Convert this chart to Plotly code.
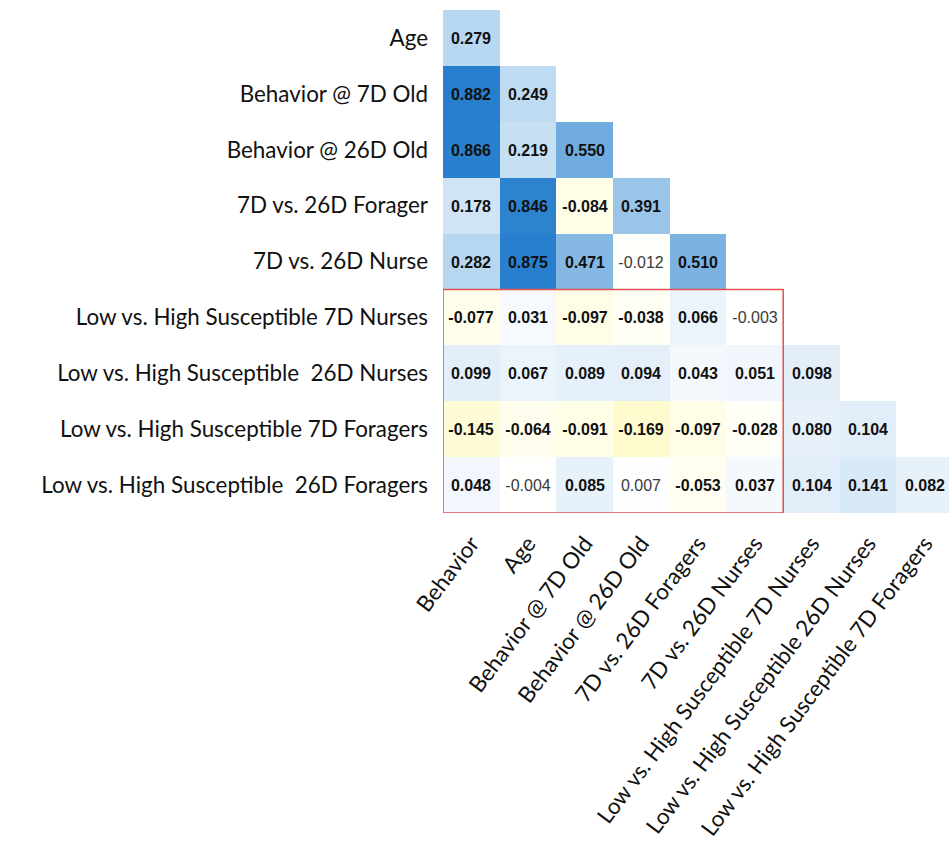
import plotly.graph_objects as go

# Row (y) and column (x) variables of the lower-triangular correlation matrix
row_labels = [
    "Age",
    "Behavior @ 7D Old",
    "Behavior @ 26D Old",
    "7D vs. 26D Forager",
    "7D vs. 26D Nurse",
    "Low vs. High Susceptible 7D Nurses",
    "Low vs. High Susceptible\u00a0 26D Nurses",
    "Low vs. High Susceptible 7D Foragers",
    "Low vs. High Susceptible\u00a0 26D Foragers",
]
col_labels = [
    "Behavior",
    "Age",
    "Behavior @ 7D Old",
    "Behavior @ 26D Old",
    "7D vs. 26D Foragers",
    "7D vs. 26D Nurses",
    "Low vs. High Susceptible 7D Nurses",
    "Low vs. High Susceptible 26D Nurses",
    "Low vs. High Susceptible 7D Foragers",
]

# Correlation coefficients, one list per row (row i holds i+1 values)
r_age = [0.279]
r_beh7 = [0.882, 0.249]
r_beh26 = [0.866, 0.219, 0.550]
r_forager = [0.178, 0.846, -0.084, 0.391]
r_nurse = [0.282, 0.875, 0.471, -0.012, 0.510]
r_lh7n = [-0.077, 0.031, -0.097, -0.038, 0.066, -0.003]
r_lh26n = [0.099, 0.067, 0.089, 0.094, 0.043, 0.051, 0.098]
r_lh7f = [-0.145, -0.064, -0.091, -0.169, -0.097, -0.028, 0.080, 0.104]
r_lh26f = [0.048, -0.004, 0.085, 0.007, -0.053, 0.037, 0.104, 0.141, 0.082]

rows = [r_age, r_beh7, r_beh26, r_forager, r_nurse, r_lh7n, r_lh26n, r_lh7f, r_lh26f]
n_cols = len(col_labels)

z = []
text = []
for vals in rows:
    zrow = list(vals) + [None] * (n_cols - len(vals))
    trow = []
    for v in zrow:
        if v is None:
            trow.append("")
        elif abs(v) < 0.02:
            # weak correlations in regular weight, grey
            trow.append(f"<span style='color:#3a3a3a'>{v:.3f}</span>")
        else:
            trow.append(f"<b>{v:.3f}</b>")
    z.append(zrow)
    text.append(trow)

# yellow (negative) -> white (zero) -> blue (positive), on [-1, 1]
colorscale = [
    [0.0, "rgb(242,226,110)"],
    [0.40, "rgb(253,250,198)"],
    [0.46, "rgb(255,254,234)"],
    [0.50, "rgb(255,255,255)"],
    [0.55, "rgb(226,238,249)"],
    [0.64, "rgb(184,215,240)"],
    [0.775, "rgb(112,172,223)"],
    [0.94, "rgb(38,126,205)"],
    [1.0, "rgb(28,112,194)"],
]

fig = go.Figure(
    go.Heatmap(
        z=z,
        x=list(range(n_cols)),
        y=list(range(len(row_labels))),
        text=text,
        texttemplate="%{text}",
        textfont=dict(family="Liberation Sans, Arial, sans-serif", size=16, color="#111111"),
        colorscale=colorscale,
        zmin=-1,
        zmax=1,
        showscale=False,
        hoverinfo="skip",
    )
)

label_font = dict(family="Lato, Carlito, Calibri, sans-serif", size=22.4, color="#111111")

fig.update_xaxes(
    tickmode="array",
    tickvals=list(range(n_cols)),
    ticktext=col_labels,
    tickangle=-53,
    tickfont=label_font,
    range=[-0.5, 8.424],
    showgrid=False,
    zeroline=False,
    showline=False,
    ticks="",
    ticklabelstandoff=12,
)
fig.update_yaxes(
    tickmode="array",
    tickvals=list(range(len(row_labels))),
    ticktext=row_labels,
    tickfont=label_font,
    range=[8.5, -0.5],
    showgrid=False,
    zeroline=False,
    showline=False,
    ticks="",
    ticklabelstandoff=14,
)

# outline around the susceptibility-vs-phenotype block
fig.add_shape(
    type="rect",
    xref="x",
    yref="y",
    x0=-0.5,
    x1=5.5,
    y0=4.5,
    y1=8.5,
    line=dict(color="rgb(225,80,80)", width=1.5),
    fillcolor="rgba(0,0,0,0)",
)

fig.update_layout(
    width=949,
    height=865,
    margin=dict(l=443, r=0, t=10, b=352),
    paper_bgcolor="white",
    plot_bgcolor="white",
)

fig.write_html("out.html")
